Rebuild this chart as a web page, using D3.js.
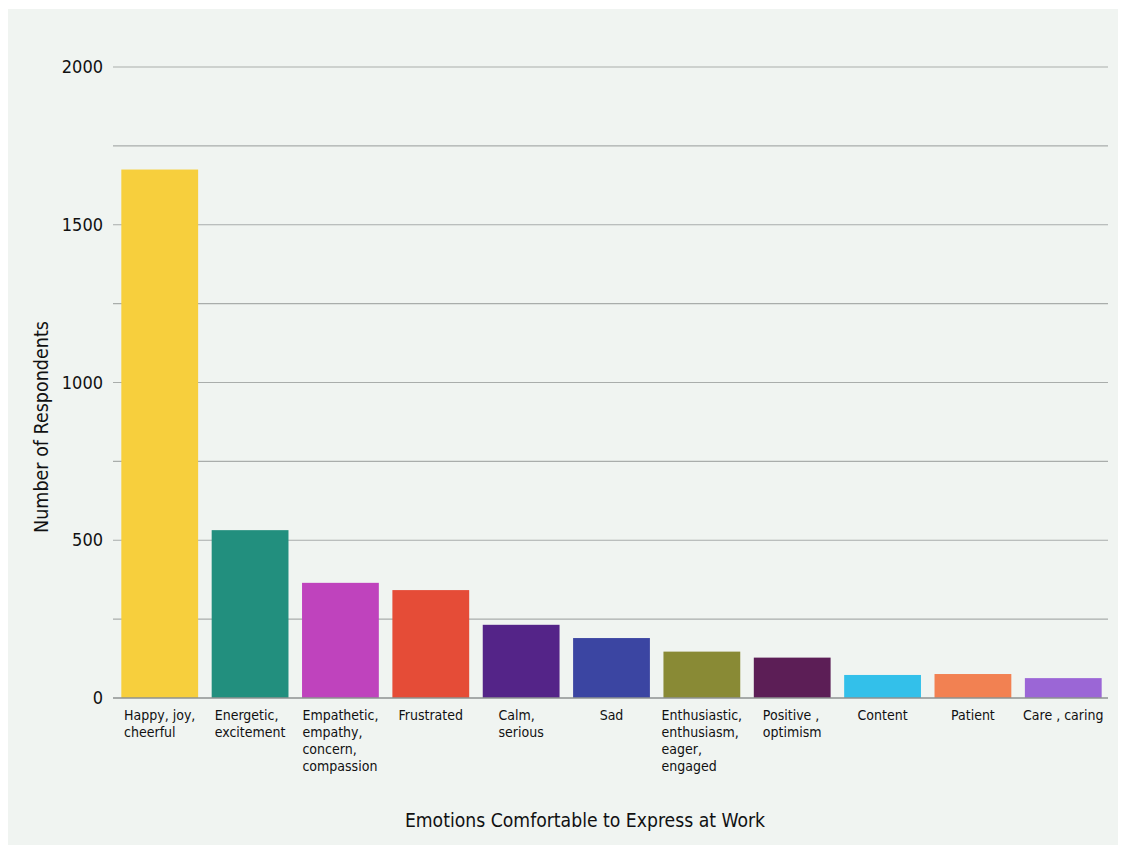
<!DOCTYPE html>
<html><head><meta charset="utf-8">
<script src="https://cdn.jsdelivr.net/npm/d3@7"></script>
<style>
body{margin:0;background:#fff;}
text{font-family:"DejaVu Sans Condensed","DejaVu Sans",sans-serif;font-stretch:condensed;fill:#111;}
</style></head>
<body><svg id="c" width="1125" height="845"></svg>
<script>
const categories = [
  ["Happy, joy,","cheerful"],
  ["Energetic,","excitement"],
  ["Empathetic,","empathy,","concern,","compassion"],
  ["Frustrated"],
  ["Calm,","serious"],
  ["Sad"],
  ["Enthusiastic,","enthusiasm,","eager,","engaged"],
  ["Positive ,","optimism"],
  ["Content"],
  ["Patient"],
  ["Care , caring"]
];
const values = [1675, 532, 365, 342, 232, 190, 147, 128, 73, 76, 63];
const colors = ["#f7cf3d","#228f7e","#bf43bd","#e54c37","#542488","#3b45a2","#898a35","#5c1e56","#33c0ea","#f28152","#9b66d6"];
const gridTicks = [0,250,500,750,1000,1250,1500,1750,2000];
const labelTicks = [0,500,1000,1500,2000];

(function(){
const svg = d3.select("#c");
svg.append("rect").attr("x",8).attr("y",9).attr("width",1110).attr("height",836).attr("fill","#f0f4f1");

const mL=113, mR=1108, mT=67, mB=698;
const x = d3.scaleBand().domain(d3.range(categories.length)).range([115,mR]).paddingInner(0.15).paddingOuter(0.07);
const y = d3.scaleLinear().domain([0,2000]).range([mB,mT]);

svg.append("g").selectAll("line").data(gridTicks.filter(d=>d>0)).join("line")
  .attr("x1",mL).attr("x2",mR).attr("y1",d=>y(d)).attr("y2",d=>y(d))
  .attr("stroke","#a9adab").attr("stroke-width",1.2);

svg.append("g").selectAll("text").data(labelTicks).join("text")
  .attr("x",103).attr("y",d=>y(d)+6).attr("text-anchor","end")
  .attr("font-size",18).text(d=>d);

svg.append("g").selectAll("rect").data(values).join("rect")
  .attr("x",(d,i)=>x(i)).attr("width",x.bandwidth())
  .attr("y",d=>y(d)).attr("height",d=>y(0)-y(d))
  .attr("fill",(d,i)=>colors[i]);

svg.append("line").attr("x1",mL).attr("x2",mR).attr("y1",y(0)).attr("y2",y(0))
  .attr("stroke","#8e9290").attr("stroke-width",1.5);

const lab = svg.append("g");
categories.forEach((lines,i)=>{
  const t = lab.append("text").attr("font-size",14);
  lines.forEach((l,j)=>t.append("tspan").attr("y",720+j*17).text(l));
  let maxW=0;
  t.selectAll("tspan").each(function(){maxW=Math.max(maxW,this.getComputedTextLength());});
  const sx = x(i)+x.bandwidth()/2-maxW/2;
  t.selectAll("tspan").attr("x",sx);
});

svg.append("text").attr("x",585).attr("y",827).attr("text-anchor","middle")
  .attr("font-size",19.2).text("Emotions Comfortable to Express at Work");
svg.append("text").attr("transform","translate(48,427) rotate(-90)").attr("text-anchor","middle")
  .attr("font-size",19.5).text("Number of Respondents");
})();
</script></body></html>
